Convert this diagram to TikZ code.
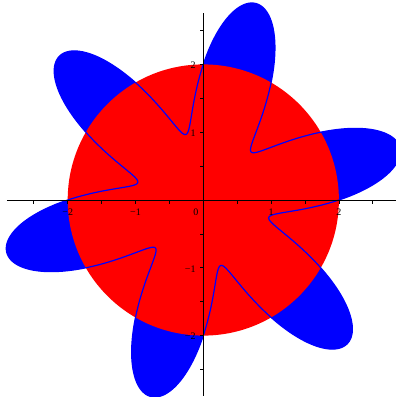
\documentclass[tikz,border=0pt]{standalone}
\usepackage{fontspec}
\setmainfont{Liberation Serif}
\begin{document}
\begin{tikzpicture}[x=67.8pt,y=67.8pt,
  axisline/.style={draw=black,line width=0.8pt},
  tickmark/.style={draw=black,line width=0.7pt},
  ticklab/.style={inner sep=0pt,font=\fontsize{10}{12}\selectfont},
  curveline/.style={draw=blue,line width=1.2pt,line join=round}]
\useasboundingbox (-203.3pt,-197pt) rectangle (192.7pt,200pt);
\clip (-203.3pt,-197pt) rectangle (192.7pt,200pt);
% filled curve r = 2 + sin(6 theta)
\fill[blue] plot[domain=0:360,samples=1441] (\x:{2+sin(6*\x)}) -- cycle;
% red disk
\fill[red] (0,0) circle (2);
% curve outline
\draw[curveline] plot[domain=0:360,samples=1441] (\x:{2+sin(6*\x)}) -- cycle;
% axes
\coordinate (xa) at (-196.3pt,0);
\coordinate (xb) at (193pt,0);
\coordinate (ya) at (0,-195.7pt);
\coordinate (yb) at (0,187pt);
\draw[axisline] (xa) -- (xb);
\draw[axisline] (ya) -- (yb);
% ticks
\foreach \t in {-2.5,-2,-1.5,-1,-0.5,0.5,1,1.5,2,2.5}{
  \draw[tickmark] (\t,0) -- ++(0,-3.5pt);
  \draw[tickmark] (0,\t) -- ++(-3.5pt,0);
}
% x labels
\node[ticklab] (xlm2) at (-2,-12pt) {−2};
\node[ticklab] (xlm1) at (-1,-12pt) {−1};
\node[ticklab] (xl0) at (-7.3pt,-12pt) {0};
\node[ticklab] (xl1) at (1,-12pt) {1};
\node[ticklab] (xl2) at (2,-12pt) {2};
% y labels
\node[ticklab,anchor=east] (yl2) at ([xshift=-7.5pt,yshift=-1pt]0,2) {2};
\node[ticklab,anchor=east] (yl1) at ([xshift=-7.5pt,yshift=-1pt]0,1) {1};
\node[ticklab,anchor=east] (ylm1) at ([xshift=-7.5pt,yshift=-1pt]0,-1) {−1};
\node[ticklab,anchor=east] (ylm2) at ([xshift=-7.5pt,yshift=-1pt]0,-2) {−2};
\end{tikzpicture}
\end{document}
